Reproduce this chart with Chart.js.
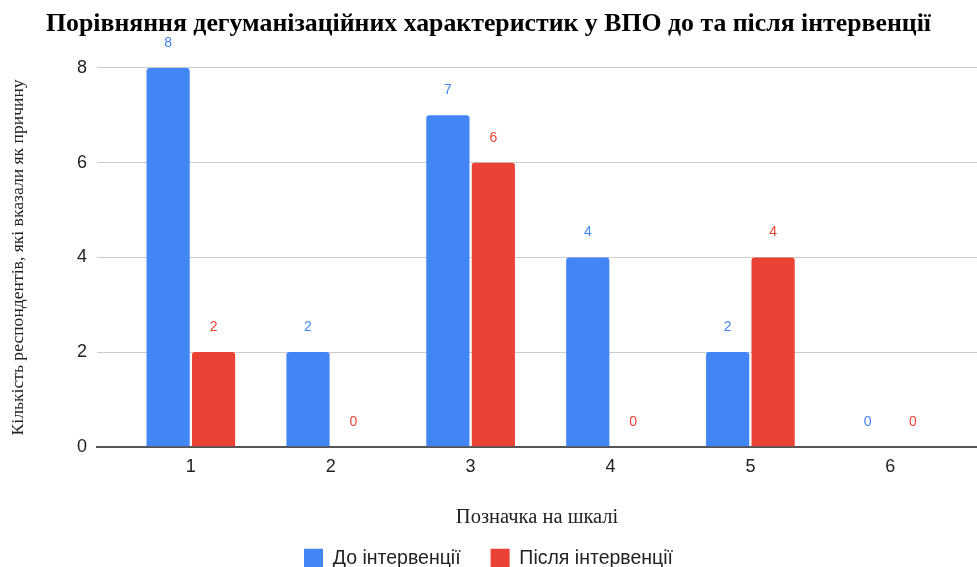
<!DOCTYPE html>
<html lang="uk">
<head>
<meta charset="utf-8">
<title>Порівняння дегуманізаційних характеристик</title>
<script src="https://cdn.jsdelivr.net/npm/chart.js@4.4.1/dist/chart.umd.min.js"></script>
<style>
    body { margin: 0; background: #fff; }
    #chart { display: block; }
</style>
</head>
<body>
<canvas id="chart" width="977" height="567"></canvas>
<script>
// Scale marks on the x axis
const scaleMarks = [1, 2, 3, 4, 5, 6];
// Respondents per mark
const beforeValues = [8, 2, 7, 4, 2, 0];
const afterValues = [2, 0, 6, 0, 4, 0];
const yTicks = [0, 2, 4, 6, 8];

const seriesNames = ['До інтервенції', 'Після інтервенції'];
const seriesColors = ['#4285f4', '#ea4335'];

// Value labels above each bar
const barLabels = {
    id: 'barLabels',
    afterDatasetsDraw(chart) {
        const ctx = chart.ctx;
        ctx.save();
        ctx.font = '14px "Liberation Sans", Arial, sans-serif';
        ctx.textAlign = 'center';
        ctx.textBaseline = 'middle';
        chart.data.datasets.forEach((ds, i) => {
            const meta = chart.getDatasetMeta(i);
            ctx.fillStyle = ds.backgroundColor;
            meta.data.forEach((bar, j) => {
                ctx.fillText(String(ds.data[j].y), bar.x, bar.y - 25);
            });
        });
        ctx.restore();
    }
};

const toPoints = values => values.map((v, i) => ({ x: scaleMarks[i], y: v }));

new Chart(document.getElementById('chart'), {
    type: 'bar',
    data: {
        datasets: [
            {
                label: seriesNames[0],
                data: toPoints(beforeValues),
                backgroundColor: seriesColors[0],
                borderRadius: 3,
                categoryPercentage: 0.65,
                barPercentage: 0.95
            },
            {
                label: seriesNames[1],
                data: toPoints(afterValues),
                backgroundColor: seriesColors[1],
                borderRadius: 3,
                categoryPercentage: 0.65,
                barPercentage: 0.95
            }
        ]
    },
    options: {
        responsive: false,
        animation: false,
        layout: { padding: { left: 0, right: 0, top: 0, bottom: -11 } },
        plugins: {
            title: {
                display: true,
                text: 'Порівняння дегуманізаційних характеристик у ВПО до та після інтервенції',
                color: '#000',
                font: { family: '"Liberation Serif", "Times New Roman", serif', size: 25.8, weight: 'bold' },
                padding: { top: 8.5, bottom: 28.5 }
            },
            legend: {
                position: 'bottom',
                labels: {
                    color: '#222',
                    font: { family: '"Liberation Sans", Arial, sans-serif', size: 19.5 },
                    boxWidth: 19,
                    boxHeight: 19,
                    padding: 30
                }
            },
            tooltip: { enabled: false }
        },
        scales: {
            x: {
                type: 'linear',
                offset: false,
                min: 0.33,
                max: 6.62,
                afterBuildTicks: scale => {
                    scale.ticks = scaleMarks.map(v => ({ value: v }));
                },
                grid: { display: false, drawTicks: false },
                border: { color: '#555', width: 2 },
                ticks: {
                    color: '#222',
                    padding: 9,
                    font: { family: '"Liberation Sans", Arial, sans-serif', size: 18 }
                },
                title: {
                    display: true,
                    text: 'Позначка на шкалі',
                    color: '#222',
                    font: { family: '"Liberation Serif", "Times New Roman", serif', size: 20.5 },
                    padding: { top: 18.5, bottom: -11 }
                }
            },
            y: {
                min: 0,
                max: 8,
                afterBuildTicks: scale => {
                    scale.ticks = yTicks.map(v => ({ value: v }));
                },
                grid: {
                    drawTicks: false,
                    color: ctx => (ctx.tick && ctx.tick.value === 0) ? 'rgba(0,0,0,0)' : '#cccccc'
                },
                border: { display: false },
                ticks: {
                    color: '#222',
                    padding: 10,
                    font: { family: '"Liberation Sans", Arial, sans-serif', size: 18 }
                },
                title: {
                    display: true,
                    text: 'Кількість респондентів, які вказали як причину',
                    color: '#222',
                    font: { family: '"Liberation Serif", "Times New Roman", serif', size: 17.6 },
                    padding: { top: 7.5, bottom: 38.5 }
                }
            }
        }
    },
    plugins: [barLabels]
});
</script>
</body>
</html>
